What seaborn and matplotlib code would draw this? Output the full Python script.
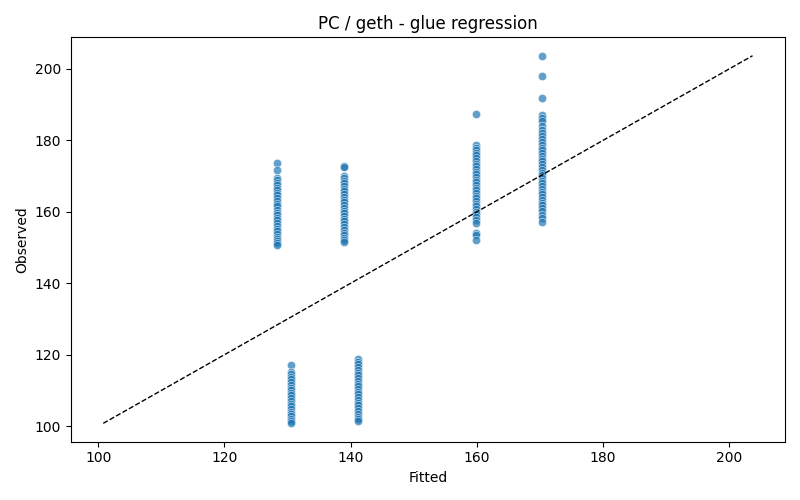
import seaborn as sns
import pandas as pd
import matplotlib.pyplot as plt

# fitted value of each group
fitted_levels = [128.4, 130.5, 138.9, 141.1, 159.9, 170.3]

# observed values per fitted group
obs_128 = [173.7, 171.8, 169.5, 168.9, 168.2, 167.5, 166.8, 166.1, 165.4, 164.6,
           163.9, 163.0, 162.3, 161.5, 160.6, 159.8, 159.1, 158.3, 157.6, 156.8,
           156.0, 155.2, 154.5, 153.7, 153.0, 152.3, 151.8, 151.2, 150.6]
obs_130 = [117.0, 115.3, 114.6, 113.9, 113.1, 112.4, 111.6, 110.8, 110.1, 109.3,
           108.6, 107.9, 107.1, 106.3, 105.6, 104.8, 104.1, 103.5, 102.8, 102.1,
           101.5, 100.8]
obs_139 = [172.9, 172.6, 170.0, 169.4, 168.7, 168.0, 167.2, 166.5, 165.8, 165.0,
           164.2, 163.4, 162.7, 161.9, 161.1, 160.3, 159.6, 158.8, 158.0, 157.3,
           156.5, 155.7, 155.0, 154.2, 153.5, 152.6, 152.1, 151.6]
obs_141 = [118.7, 118.1, 117.3, 116.5, 115.8, 115.0, 114.2, 113.5, 112.7, 111.9,
           111.2, 110.4, 109.6, 108.9, 108.1, 107.3, 106.6, 105.8, 105.0, 104.3,
           103.5, 102.7, 102.0, 101.5]
obs_160 = [187.5, 178.7, 178.0, 177.3, 176.5, 175.8, 175.0, 174.3, 173.5, 172.8,
           172.0, 171.2, 170.5, 169.8, 169.0, 168.3, 167.5, 166.8, 166.0, 165.3,
           164.5, 163.8, 163.0, 162.3, 161.5, 160.8, 160.0, 159.3, 158.5, 157.8,
           157.0, 154.0, 153.4, 152.0]
obs_170 = [203.7, 198.0, 192.0, 187.0, 186.4, 185.5, 184.0, 182.8, 182.0, 181.2,
           180.4, 179.6, 178.8, 178.0, 177.2, 176.5, 175.7, 174.9, 174.2, 173.4,
           172.6, 171.8, 171.0, 170.3, 169.5, 168.7, 168.0, 167.2, 166.4, 165.6,
           164.9, 164.1, 163.3, 162.5, 161.8, 161.0, 160.2, 159.0, 158.2, 157.2]

groups = [obs_128, obs_130, obs_139, obs_141, obs_160, obs_170]
rows = []
for f, obs in zip(fitted_levels, groups):
    for o in obs:
        rows.append({"Fitted": f, "Observed": o})
df = pd.DataFrame(rows)

fig, ax = plt.subplots(figsize=(8, 5), dpi=100)
sns.scatterplot(data=df, x="Fitted", y="Observed", alpha=0.7, ax=ax)
lo, hi = df["Observed"].min(), df["Observed"].max()
ax.plot([lo, hi], [lo, hi], "k--", lw=1)
ax.set_title("PC / geth - glue regression")
ax.set_xlabel("Fitted")
ax.set_ylabel("Observed")
plt.tight_layout()
plt.savefig("out.png")
